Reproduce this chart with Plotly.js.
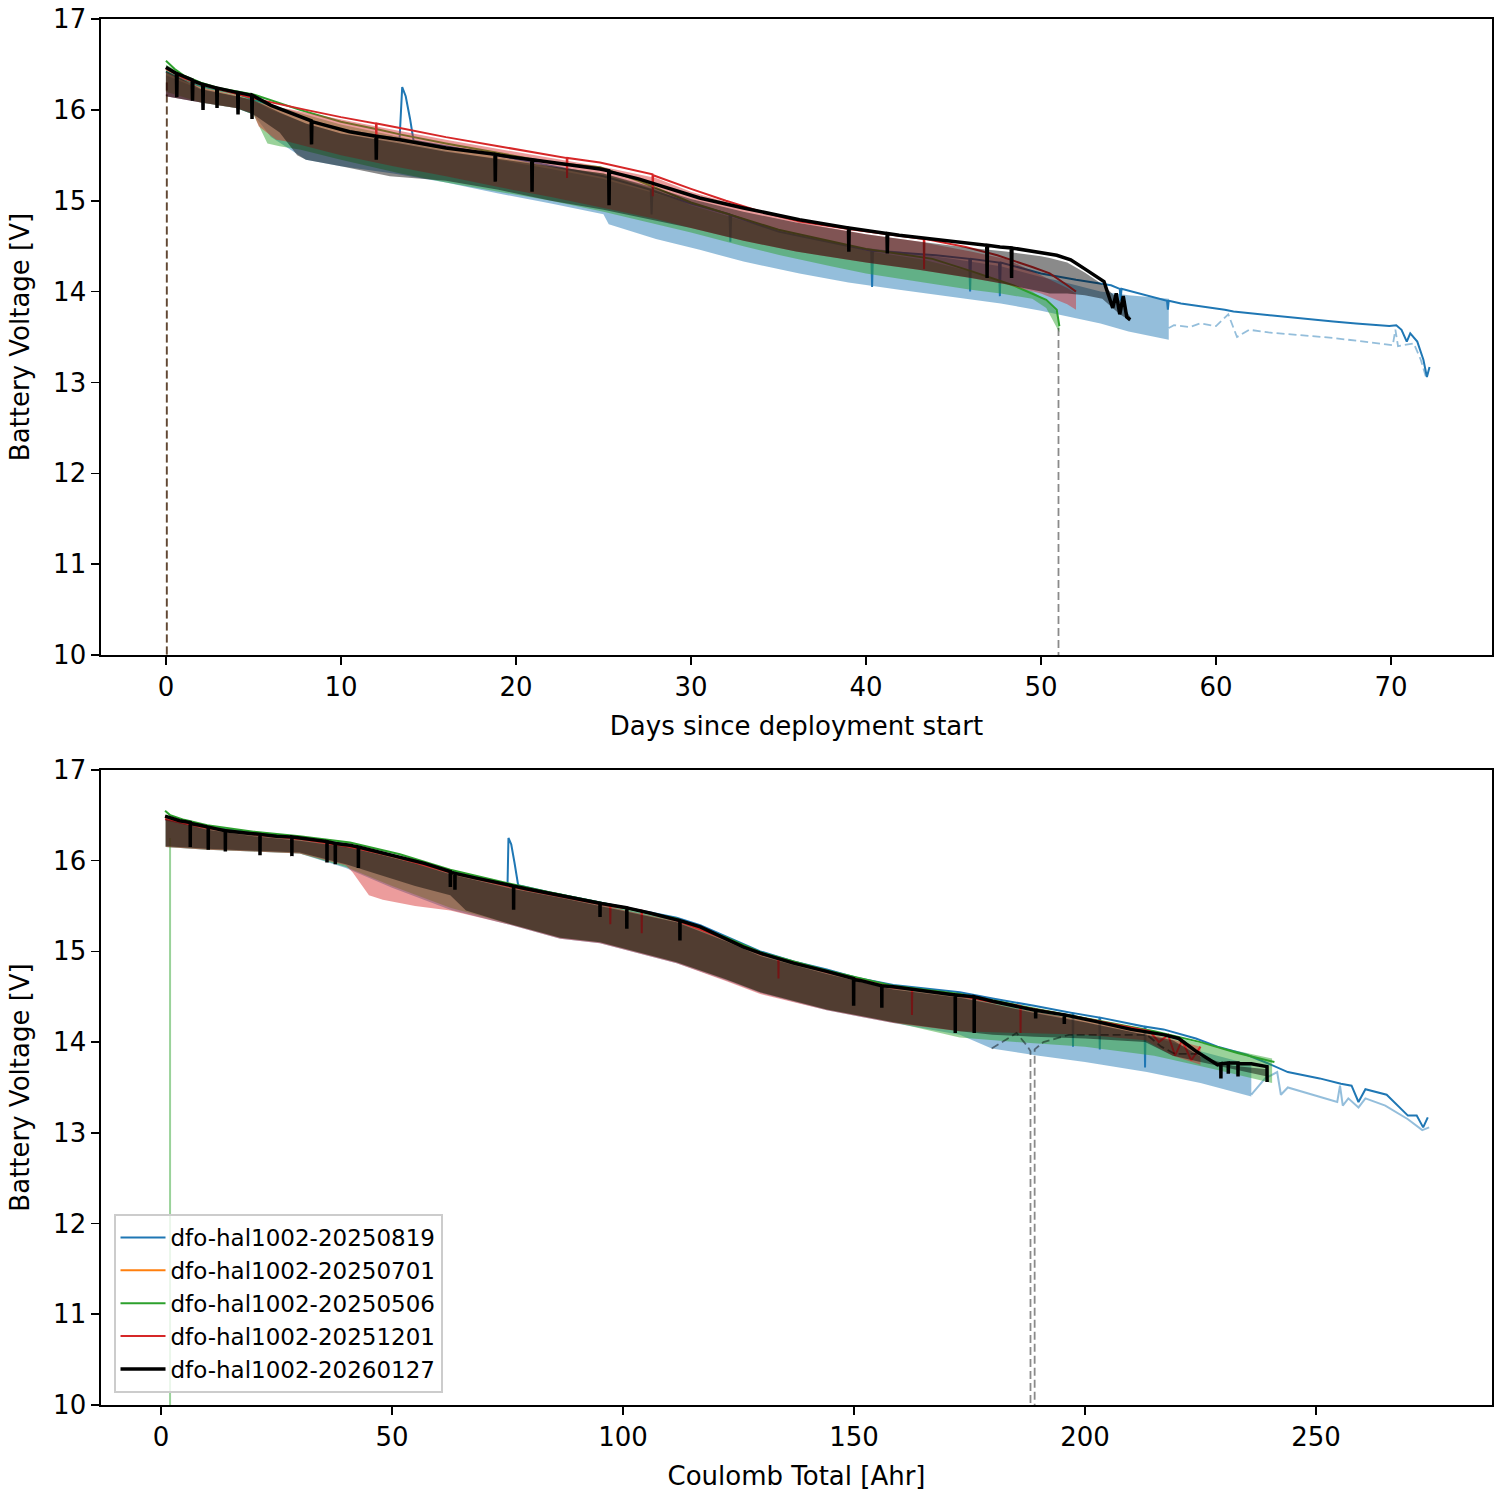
<!DOCTYPE html>
<html>
<head>
<meta charset="utf-8">
<script src="https://cdn.plot.ly/plotly-3.0.1.min.js"></script>
<style>body{margin:0;background:#fff}#chart{width:1500px;height:1500px}</style>
</head>
<body>
<div id="chart"></div>
<script>
// ---- top panel: days since deployment start ----
const tBlueX = [0, 1, 2, 4, 6, 8, 10, 12, 13.35, 13.5, 13.7, 13.95, 14.15, 16, 20, 25, 27.7, 27.75, 27.8, 30, 32.2, 32.25, 32.3, 35, 40.3, 40.35, 40.4, 44, 45.9, 45.95, 46, 47.6, 47.65, 47.7, 50, 52, 54, 54.5, 54.55, 54.6, 56, 57.2, 57.25, 57.3, 58, 60, 60.5, 61, 63, 65, 66.7, 68, 69.9, 70.3, 70.6, 70.9, 71.1, 71.5, 71.85, 72.05, 72.2];
const tBlueY = [16.42, 16.33, 16.26, 16.18, 16.05, 15.9, 15.78, 15.72, 15.68, 16.25, 16.15, 15.9, 15.66, 15.6, 15.46, 15.27, 15.12, 14.85, 15.11, 14.97, 14.85, 14.55, 14.84, 14.66, 14.45, 14.05, 14.45, 14.4, 14.36, 14.0, 14.36, 14.32, 13.95, 14.32, 14.2, 14.13, 14.07, 14.03, 13.9, 14.03, 13.96, 13.9, 13.8, 13.9, 13.87, 13.82, 13.8, 13.78, 13.74, 13.7, 13.67, 13.65, 13.62, 13.63, 13.58, 13.45, 13.54, 13.45, 13.25, 13.06, 13.17];
const tBlueBandX = [0, 2, 4, 5, 6, 8, 10, 13, 16, 19, 22, 25, 25.3, 28, 30.5, 33, 36.2, 39, 41.9, 45, 47.7, 50, 51, 53.4, 55, 57.3];
const tBlueLo = [16.15, 16.08, 16.02, 15.95, 15.7, 15.45, 15.38, 15.3, 15.2, 15.08, 14.97, 14.85, 14.74, 14.58, 14.46, 14.33, 14.2, 14.1, 14.02, 13.94, 13.87, 13.79, 13.75, 13.65, 13.56, 13.47];
const tBlueHi = [16.38, 16.22, 16.15, 16.1, 16.0, 15.85, 15.74, 15.66, 15.55, 15.45, 15.35, 15.24, 15.22, 15.08, 14.94, 14.8, 14.62, 14.5, 14.44, 14.36, 14.28, 14.16, 14.12, 14.0, 13.96, 13.92];
const tBlueDashX = [57.3, 57.6, 58.5, 59.1, 60.0, 60.7, 61.2, 61.9, 63, 66.7, 70.1, 70.25, 70.4, 71.3, 71.7, 72.0];
const tBlueDashY = [13.6, 13.63, 13.61, 13.65, 13.62, 13.75, 13.5, 13.58, 13.55, 13.49, 13.41, 13.58, 13.4, 13.43, 13.25, 13.06];

const tGreenX = [0, 0.5, 1, 2, 3, 5, 7.66, 10, 12.2, 13.37, 16, 19.1, 22, 24.8, 27, 30, 35, 40, 43.8, 46.1, 48.4, 50.3, 50.9, 51.05];
const tGreenY = [16.54, 16.45, 16.38, 16.3, 16.24, 16.17, 16.0, 15.87, 15.78, 15.73, 15.63, 15.52, 15.42, 15.37, 15.22, 14.98, 14.68, 14.47, 14.36, 14.22, 14.07, 13.91, 13.8, 13.62];
const tGreenBandX = [0, 2, 4, 5, 5.8, 6.5, 7.7, 10, 13.4, 16, 19, 22, 25, 28, 30, 33, 35.1, 38, 40, 43.3, 46, 47.7, 49.5, 50.3, 50.9, 51.05];
const tGreenLo = [16.2, 16.08, 16.02, 15.95, 15.63, 15.6, 15.56, 15.45, 15.3, 15.2, 15.1, 15.0, 14.88, 14.74, 14.65, 14.5, 14.4, 14.28, 14.2, 14.1, 14.02, 13.98, 13.92, 13.82, 13.6, 13.55];
const tGreenHi = [16.5, 16.28, 16.2, 16.15, 16.08, 16.03, 15.96, 15.84, 15.7, 15.6, 15.48, 15.38, 15.3, 15.12, 14.95, 14.78, 14.66, 14.55, 14.45, 14.35, 14.22, 14.12, 14.0, 13.9, 13.78, 13.62];

const tRedX = [0, 1, 2, 5.37, 8, 10, 12.0, 12.02, 12.04, 13.37, 16, 19, 22, 22.9, 22.92, 22.94, 24.8, 27, 27.8, 27.82, 27.84, 30, 32, 34, 36.2, 39, 41.9, 43.3, 43.32, 43.34, 45.7, 47.5, 49.5, 50.5, 51.5, 52.0];
const tRedY = [16.45, 16.35, 16.28, 16.11, 16.0, 15.92, 15.85, 15.55, 15.85, 15.8, 15.7, 15.6, 15.5, 15.47, 15.25, 15.47, 15.42, 15.33, 15.29, 15.05, 15.28, 15.13, 15.0, 14.88, 14.77, 14.69, 14.62, 14.58, 14.25, 14.58, 14.49, 14.4, 14.27, 14.2, 14.07, 14.0];
const tRedBandX = [0, 2, 4, 5, 5.3, 6.3, 7, 8, 10, 13, 16, 19, 22, 25, 28, 30, 33, 36, 40, 43, 46, 48, 50, 51.5, 52.0];
const tRedLo = [16.15, 16.08, 16.02, 15.96, 15.82, 15.67, 15.65, 15.6, 15.5, 15.38, 15.27, 15.15, 15.04, 14.92, 14.8, 14.7, 14.56, 14.44, 14.32, 14.24, 14.15, 14.08, 13.98, 13.86, 13.8];
const tRedHi = [16.42, 16.25, 16.16, 16.1, 16.08, 16.03, 16.01, 15.97, 15.89, 15.78, 15.67, 15.57, 15.47, 15.37, 15.25, 15.1, 14.93, 14.77, 14.63, 14.55, 14.44, 14.36, 14.18, 14.04, 13.98];

const tBlackX = [0, 0.6, 0.62, 0.64, 1.5, 1.52, 1.54, 2.1, 2.12, 2.14, 2.9, 2.92, 2.94, 4.1, 4.12, 4.14, 4.9, 4.92, 4.94, 6, 7.66, 8.3, 8.32, 8.34, 10.5, 12.0, 12.02, 12.04, 13.37, 16, 18.8, 18.82, 18.84, 19.1, 20.9, 20.92, 20.94, 24.8, 25.3, 25.32, 25.34, 27, 30.5, 33, 36.2, 39.0, 39.02, 39.04, 41.2, 41.22, 41.24, 41.9, 44, 46.9, 46.92, 46.94, 47.66, 48.3, 48.32, 48.34, 50.9, 51.7, 52.5, 53.6, 54.1, 54.3, 54.5, 54.7, 54.9, 55.1];
const tBlackY = [16.47, 16.4, 16.14, 16.4, 16.33, 16.1, 16.32, 16.28, 16.0, 16.28, 16.24, 16.02, 16.24, 16.19, 15.95, 16.19, 16.16, 15.9, 16.16, 16.05, 15.92, 15.88, 15.62, 15.87, 15.76, 15.71, 15.45, 15.71, 15.67, 15.58, 15.51, 15.21, 15.51, 15.5, 15.45, 15.1, 15.45, 15.35, 15.33, 14.95, 15.32, 15.24, 15.03, 14.92, 14.79, 14.7, 14.44, 14.7, 14.64, 14.42, 14.64, 14.62, 14.57, 14.51, 14.15, 14.51, 14.49, 14.48, 14.15, 14.48, 14.4, 14.35, 14.25, 14.11, 13.82, 13.98, 13.75, 13.95, 13.72, 13.69];
const tBlackBandX = [0, 2, 4, 5, 6.5, 7.5, 8, 10, 12.8, 13.4, 16, 19, 22, 25, 28, 30, 33, 36, 40, 43, 46, 48, 50, 50.5, 51.5, 52.5, 53.5, 54.5, 55.1];
const tBlackLo = [16.15, 16.08, 16.02, 15.95, 15.75, 15.5, 15.45, 15.38, 15.27, 15.26, 15.22, 15.12, 15.0, 14.9, 14.78, 14.7, 14.56, 14.44, 14.32, 14.24, 14.15, 14.08, 14.0, 13.98, 13.98, 13.96, 13.92, 13.75, 13.68];
const tBlackHi = [16.43, 16.23, 16.15, 16.11, 15.97, 15.89, 15.85, 15.74, 15.65, 15.63, 15.54, 15.46, 15.38, 15.3, 15.14, 15.02, 14.88, 14.76, 14.63, 14.55, 14.48, 14.44, 14.39, 14.37, 14.32, 14.21, 14.08, 13.9, 13.72];
// drops to zero at the start and near day 51
const tDropStartX = [0.05, 0.05];
const tDropStartY = [16.3, 9];
const tDropEndX = [51.0, 51.0];
const tDropEndY = [13.6, 9];

// ---- bottom panel: coulomb total [Ahr] ----
const bBlueX = [1, 10, 20, 30, 40, 50, 62.6, 73.4, 75.0, 75.2, 75.8, 76.5, 77.3, 84.2, 95, 111.6, 116.7, 122.4, 129.7, 136.9, 144.1, 151.3, 158.5, 172.9, 180, 189, 197.3, 197.4, 197.5, 203.1, 203.2, 203.3, 210, 212.9, 213, 213.1, 217, 224, 228.7, 235, 239.4, 243.9, 250.8, 255.4, 257.7, 259.2, 260.7, 265.3, 269.9, 271.8, 273.2, 274.2];
const bBlueY = [16.45, 16.37, 16.31, 16.26, 16.18, 16.06, 15.89, 15.76, 15.74, 16.25, 16.18, 15.98, 15.73, 15.65, 15.54, 15.37, 15.29, 15.16, 15.0, 14.89, 14.8, 14.7, 14.63, 14.55, 14.48, 14.4, 14.32, 13.95, 14.32, 14.27, 13.92, 14.27, 14.2, 14.17, 13.72, 14.17, 14.14, 14.04, 13.95, 13.86, 13.77, 13.67, 13.6, 13.54, 13.52, 13.34, 13.48, 13.42, 13.19, 13.19, 13.06, 13.17];
const bBlueBandX = [1, 10, 20, 30, 40, 50, 62.6, 75, 86.4, 95, 111.6, 122.4, 129.7, 144.1, 158.5, 172.9, 179.8, 190, 200, 213.4, 225, 236];
const bBlueLo = [16.15, 16.12, 16.1, 16.08, 15.92, 15.7, 15.46, 15.3, 15.14, 15.09, 14.87, 14.68, 14.54, 14.35, 14.21, 14.08, 13.93, 13.85, 13.78, 13.67, 13.55, 13.4];
const bBlueHi = [16.45, 16.36, 16.29, 16.24, 16.16, 16.03, 15.87, 15.74, 15.63, 15.52, 15.34, 15.13, 14.97, 14.77, 14.6, 14.51, 14.44, 14.34, 14.22, 14.08, 13.9, 13.75];
const bBlueFadeX = [236, 239, 241.6, 242.4, 243.9, 248, 254.6, 255.2, 255.8, 257, 259.2, 260.7, 265, 269.9, 273, 274.5];
const bBlueFadeY = [13.42, 13.6, 13.67, 13.42, 13.5, 13.44, 13.34, 13.52, 13.3, 13.38, 13.28, 13.38, 13.3, 13.15, 13.03, 13.06];

// orange deployment sits under the black trace at the start
const bOrangeX = [0.87, 4, 8.4, 12, 19.3];
const bOrangeY = [16.49, 16.44, 16.39, 16.35, 16.3];

const bGreenX = [0.87, 2, 5, 10, 20, 30, 40.9, 51.7, 62.6, 73.4, 84.2, 95, 111.6, 122.4, 129.7, 144.1, 158.5, 172.9, 190, 205, 215, 225, 233, 241];
const bGreenY = [16.55, 16.5, 16.45, 16.39, 16.32, 16.27, 16.2, 16.07, 15.9, 15.77, 15.65, 15.54, 15.36, 15.15, 14.99, 14.79, 14.62, 14.53, 14.36, 14.22, 14.12, 14.0, 13.88, 13.78];
const bGreenBandX = [1, 10, 20, 30, 40, 50, 62.6, 75, 86.4, 95, 111.6, 122.4, 129.7, 144.1, 158.5, 172.9, 185, 200, 215, 228, 235, 240.5];
const bGreenLo = [16.15, 16.12, 16.1, 16.08, 15.93, 15.72, 15.48, 15.31, 15.15, 15.1, 14.88, 14.69, 14.55, 14.36, 14.22, 14.05, 14.0, 13.95, 13.85, 13.7, 13.62, 13.55];
const bGreenHi = [16.5, 16.38, 16.31, 16.26, 16.18, 16.05, 15.88, 15.75, 15.64, 15.53, 15.35, 15.14, 14.98, 14.78, 14.61, 14.52, 14.4, 14.27, 14.1, 13.95, 13.88, 13.82];
const bGreenDropX = [1.95, 1.95];
const bGreenDropY = [16.25, 9];

const bRedX = [0.87, 5, 10, 20, 30, 40, 50, 62.6, 75, 86.4, 97.2, 97.25, 97.3, 104, 104.05, 104.1, 111.6, 122.4, 129.7, 133.6, 133.65, 133.7, 144.1, 158.5, 162.5, 162.55, 162.6, 172.9, 180, 186, 186.05, 186.1, 200, 210, 214, 216, 218, 219.5, 221, 223, 225];
const bRedY = [16.46, 16.41, 16.36, 16.29, 16.24, 16.16, 16.05, 15.87, 15.72, 15.61, 15.5, 15.3, 15.5, 15.45, 15.2, 15.44, 15.34, 15.13, 14.97, 14.92, 14.7, 14.92, 14.77, 14.6, 14.58, 14.3, 14.58, 14.51, 14.44, 14.4, 14.1, 14.39, 14.26, 14.16, 14.12, 14.0, 14.08, 13.85, 14.02, 13.8, 13.95];
const bRedBandX = [1, 10, 20, 30, 40, 41.5, 45, 48, 55, 62.6, 75, 86.4, 95, 111.6, 122.4, 129.7, 144.1, 158.5, 172.9, 185, 200, 213, 219, 225];
const bRedLo = [16.15, 16.12, 16.1, 16.08, 15.95, 15.87, 15.62, 15.57, 15.5, 15.45, 15.3, 15.14, 15.09, 14.87, 14.67, 14.53, 14.35, 14.21, 14.12, 14.1, 14.08, 14.02, 13.85, 13.75];
const bRedHi = [16.45, 16.36, 16.29, 16.24, 16.16, 16.15, 16.1, 16.07, 15.98, 15.86, 15.73, 15.62, 15.51, 15.33, 15.12, 14.96, 14.76, 14.59, 14.5, 14.37, 14.24, 14.1, 14.03, 13.95];

const bBlackX = [0.87, 4, 6.3, 6.32, 6.34, 8.4, 10.2, 10.22, 10.24, 12, 13.9, 13.92, 13.94, 19.3, 21.4, 21.42, 21.44, 25, 28.3, 28.32, 28.34, 30.1, 35, 35.9, 35.92, 35.94, 37.7, 37.72, 37.74, 40.9, 42.7, 42.72, 42.74, 46, 51.7, 57, 62.6, 62.62, 62.64, 63.6, 63.62, 63.64, 68, 73.4, 76.3, 76.32, 76.34, 79, 84.2, 90, 95, 95.02, 95.04, 100.8, 100.82, 100.84, 106, 111.6, 112.3, 112.32, 112.34, 116.7, 122.4, 126, 129.7, 136.9, 144.1, 149.9, 149.92, 149.94, 151.3, 156, 156.02, 156.04, 158.5, 165, 171.9, 171.92, 171.94, 176, 176.02, 176.04, 180, 189.3, 189.32, 189.34, 195.5, 195.52, 195.54, 203, 210, 217.2, 220.3, 224, 228.7, 229.4, 229.42, 229.44, 231, 231.02, 231.04, 233.1, 233.12, 233.14, 236, 239.4, 239.42];
const bBlackY = [16.49, 16.44, 16.42, 16.15, 16.41, 16.39, 16.37, 16.12, 16.37, 16.35, 16.33, 16.1, 16.33, 16.3, 16.29, 16.06, 16.29, 16.27, 16.26, 16.05, 16.26, 16.25, 16.22, 16.21, 15.98, 16.21, 16.19, 15.96, 16.19, 16.17, 16.15, 15.92, 16.15, 16.11, 16.04, 15.97, 15.88, 15.71, 15.87, 15.86, 15.68, 15.86, 15.81, 15.75, 15.72, 15.46, 15.72, 15.69, 15.64, 15.58, 15.53, 15.38, 15.53, 15.48, 15.25, 15.48, 15.42, 15.35, 15.34, 15.12, 15.34, 15.27, 15.14, 15.05, 14.98, 14.87, 14.78, 14.7, 14.4, 14.69, 14.68, 14.62, 14.38, 14.62, 14.61, 14.57, 14.52, 14.1, 14.52, 14.5, 14.1, 14.5, 14.45, 14.35, 14.26, 14.35, 14.3, 14.2, 14.3, 14.22, 14.14, 14.08, 14.04, 13.9, 13.75, 13.76, 13.6, 13.76, 13.77, 13.65, 13.77, 13.77, 13.62, 13.76, 13.76, 13.73, 13.56];
const bBlackBandX = [1, 10, 20, 30, 40, 48, 55, 62.6, 66, 75, 86.4, 95, 111.6, 122.4, 129.7, 144.1, 158.5, 172.9, 180, 189, 200, 213, 219, 225, 232, 239.4];
const bBlackLo = [16.16, 16.13, 16.11, 16.09, 15.96, 15.83, 15.72, 15.62, 15.45, 15.31, 15.15, 15.1, 14.88, 14.69, 14.55, 14.36, 14.22, 14.12, 14.08, 14.06, 14.04, 14.0, 13.85, 13.78, 13.7, 13.62];
const bBlackHi = [16.46, 16.34, 16.27, 16.22, 16.15, 16.06, 15.97, 15.85, 15.81, 15.7, 15.59, 15.5, 15.32, 15.11, 14.95, 14.75, 14.58, 14.49, 14.42, 14.32, 14.22, 14.08, 14.02, 13.84, 13.74, 13.7];
const bGrayDash1X = [179.8, 185.2, 187.6, 188.2, 188.2];
const bGrayDash1Y = [13.93, 14.1, 13.95, 13.9, 9];
const bGrayDash2X = [189.1, 189.1, 191, 196.5, 213.4, 216.5, 219.5, 224.9];
const bGrayDash2Y = [9, 13.92, 14.0, 14.08, 14.08, 13.95, 13.87, 13.87];

const names = ['dfo-hal1002-20250819', 'dfo-hal1002-20250701', 'dfo-hal1002-20250506', 'dfo-hal1002-20251201', 'dfo-hal1002-20260127'];
const C = {blue:'#1f77b4', orange:'#ff7f0e', green:'#2ca02c', red:'#d62728', black:'#000000'};
const A = {blue:'rgba(31,119,180,0.48)', green:'rgba(44,160,44,0.48)', red:'rgba(214,39,40,0.46)', black:'rgba(0,0,0,0.46)'};

const band = (x, lo, hi, col, ax) => ({
  x: x.concat(x.slice().reverse()), y: lo.concat(hi.slice().reverse()),
  xaxis: 'x'+ax, yaxis: 'y'+ax, type: 'scatter', mode: 'lines', fill: 'toself',
  fillcolor: col, line: {width: 0}, hoverinfo: 'skip', showlegend: false,
});
const line = (x, y, col, w, ax, extra) => Object.assign({
  x, y, xaxis: 'x'+ax, yaxis: 'y'+ax, type: 'scatter', mode: 'lines',
  line: {color: col, width: w}, showlegend: false,
}, extra || {});
const dash = '8px,4px';

const traces = [
  // top
  band(tBlueBandX, tBlueLo, tBlueHi, A.blue, ''),
  line(tBlueDashX, tBlueDashY, A.blue, 1.8, '', {line:{color:A.blue, width:1.8, dash}}),
  line(tBlueX, tBlueY, C.blue, 2, ''),
  band(tGreenBandX, tGreenLo, tGreenHi, A.green, ''),
  line(tDropStartX, tDropStartY, A.green, 1.8, '', {line:{color:A.green, width:1.8, dash}}),
  line(tGreenX, tGreenY, C.green, 2, ''),
  band(tRedBandX, tRedLo, tRedHi, A.red, ''),
  line(tDropStartX, tDropStartY, A.red, 1.8, '', {line:{color:A.red, width:1.8, dash}}),
  line(tRedX, tRedY, C.red, 2, ''),
  band(tBlackBandX, tBlackLo, tBlackHi, A.black, ''),
  line(tDropStartX, tDropStartY, A.black, 1.8, '', {line:{color:A.black, width:1.8, dash}}),
  line(tDropEndX, tDropEndY, A.black, 1.8, '', {line:{color:A.black, width:1.8, dash}}),
  line(tBlackX, tBlackY, C.black, 3.5, ''),
  // bottom
  band(bBlueBandX, bBlueLo, bBlueHi, A.blue, '2'),
  line(bBlueFadeX, bBlueFadeY, A.blue, 2, '2'),
  line(bBlueX, bBlueY, C.blue, 2, '2', {showlegend:true, name:names[0], legendrank:1}),
  line(bOrangeX, bOrangeY, C.orange, 2, '2', {showlegend:true, name:names[1], legendrank:2}),
  band(bGreenBandX, bGreenLo, bGreenHi, A.green, '2'),
  line(bGreenDropX, bGreenDropY, A.green, 2, '2'),
  line(bGreenX, bGreenY, C.green, 2, '2', {showlegend:true, name:names[2], legendrank:3}),
  band(bRedBandX, bRedLo, bRedHi, A.red, '2'),
  line(bRedX, bRedY, C.red, 2, '2', {showlegend:true, name:names[3], legendrank:4}),
  band(bBlackBandX, bBlackLo, bBlackHi, A.black, '2'),
  line(bGrayDash1X, bGrayDash1Y, A.black, 1.8, '2', {line:{color:A.black, width:1.8, dash}}),
  line(bGrayDash2X, bGrayDash2Y, A.black, 1.8, '2', {line:{color:A.black, width:1.8, dash}}),
  line(bBlackX, bBlackY, C.black, 3.5, '2', {showlegend:true, name:names[4], legendrank:5}),
];

const font = {family: 'DejaVu Sans', size: 26, color: '#000'};
const axBase = {
  showline: true, mirror: true, linecolor: '#000', linewidth: 1.6,
  ticks: 'outside', ticklen: 8, tickwidth: 1.6, tickcolor: '#000',
  showgrid: false, zeroline: false, tickfont: font,
};
const layout = {
  width: 1500, height: 1500,
  margin: {l: 101, r: 8, t: 19, b: 95},
  paper_bgcolor: '#fff', plot_bgcolor: '#fff', font,
  xaxis: {...axBase, domain: [0, 1], anchor: 'y', range: [-3.71, 75.77], dtick: 10,
    title: {text: 'Days since deployment start', font, standoff: 16}},
  yaxis: {...axBase, domain: [0.5411, 1], anchor: 'x', range: [10, 17], dtick: 1,
    title: {text: 'Battery Voltage [V]', font, standoff: 16}},
  xaxis2: {...axBase, domain: [0, 1], anchor: 'y2', range: [-13.0, 288.1], dtick: 50,
    title: {text: 'Coulomb Total [Ahr]', font, standoff: 16}},
  yaxis2: {...axBase, domain: [0, 0.4582], anchor: 'x2', range: [10, 17], dtick: 1,
    title: {text: 'Battery Voltage [V]', font, standoff: 16}},
  showlegend: true,
  legend: {x: 0.009, y: 0.0087, xanchor: 'left', yanchor: 'bottom', itemwidth: 45,
    bgcolor: 'rgba(255,255,255,0.8)', bordercolor: '#cccccc', borderwidth: 2,
    font: {family: 'DejaVu Sans', size: 23, color: '#000'}},
};

Plotly.newPlot('chart', traces, layout, {staticPlot: true});
</script>
</body>
</html>
